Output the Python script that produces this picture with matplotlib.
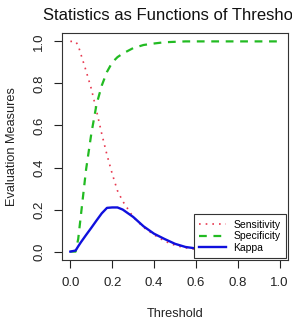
import numpy as np
import matplotlib.pyplot as plt

plt.rcParams['font.family'] = ['Liberation Sans', 'DejaVu Sans']

# valeurs
threshold = [0.0, 0.025, 0.0375, 0.05, 0.075, 0.1, 0.125, 0.15, 0.175, 0.2, 0.225, 0.25,
             0.3, 0.35, 0.4, 0.45, 0.5, 0.55, 0.6, 0.7, 0.8, 0.9, 1.0]
sensitivity = [1.0, 1.0, 0.98, 0.94, 0.86, 0.775, 0.67, 0.56, 0.46, 0.37, 0.29, 0.24,
               0.165, 0.115, 0.08, 0.05, 0.03, 0.018, 0.011, 0.005, 0.002, 0.001, 0.0]
specificity = [0.0, 0.0, 0.06, 0.17, 0.39, 0.56, 0.70, 0.79, 0.855, 0.90, 0.925, 0.942,
               0.968, 0.983, 0.99, 0.996, 0.998, 1.0, 1.0, 1.0, 1.0, 1.0, 1.0]
kappa = [0.0, 0.005, 0.025, 0.044, 0.079, 0.113, 0.148, 0.182, 0.208, 0.21, 0.21, 0.2,
         0.165, 0.12, 0.085, 0.06, 0.037, 0.022, 0.015, 0.008, 0.003, 0.001, 0.0]
tick_labels = ['0.0', '0.2', '0.4', '0.6', '0.8', '1.0']

fig = plt.figure(figsize=(2.92, 3.25), dpi=100)
ax = fig.add_axes([0.2123, 0.2, 0.774, 0.6985])

ax.plot(threshold, sensitivity, color='#E8384F', linestyle=(0, (1, 3)), lw=1.2, label='Sensitivity')
ax.plot(threshold, specificity, color='#22BB22', linestyle=(0, (3.5, 3)), lw=1.6, label='Specificity')
ax.plot(threshold, kappa, color='#1010DD', linestyle='-', lw=1.7, label='Kappa')

ax.set_xlim(-0.04, 1.04)
ax.set_ylim(-0.04, 1.04)
ax.set_xticks(np.arange(0, 1.01, 0.2))
ax.set_yticks(np.arange(0, 1.01, 0.2))
ax.set_xticklabels(tick_labels)
ax.set_yticklabels(tick_labels, rotation=90, va='center')
ax.tick_params(length=6, width=0.8, labelsize=9.5, pad=6, color='#222222', labelcolor='#222222')
for s in ax.spines.values():
    s.set_linewidth(0.8)
    s.set_color('#333333')

ax.set_xlabel('Threshold', fontsize=9.2, labelpad=14, color='#222222')
ax.set_ylabel('Evaluation Measures', fontsize=9.2, labelpad=11, color='#222222')
fig.text(0.5993, 0.952, 'Statistics as Functions of Threshold', ha='center', va='center',
         fontsize=12, color='#111111')

leg = ax.legend(loc='lower right', bbox_to_anchor=(1.0, 0.0), fontsize=7.5, fancybox=False,
                framealpha=1, edgecolor='#333333', borderaxespad=0.2, handlelength=2.6,
                labelspacing=0.15, borderpad=0.5, handletextpad=0.7)
leg.get_frame().set_linewidth(0.8)

fig.savefig('out.png', dpi=100)
